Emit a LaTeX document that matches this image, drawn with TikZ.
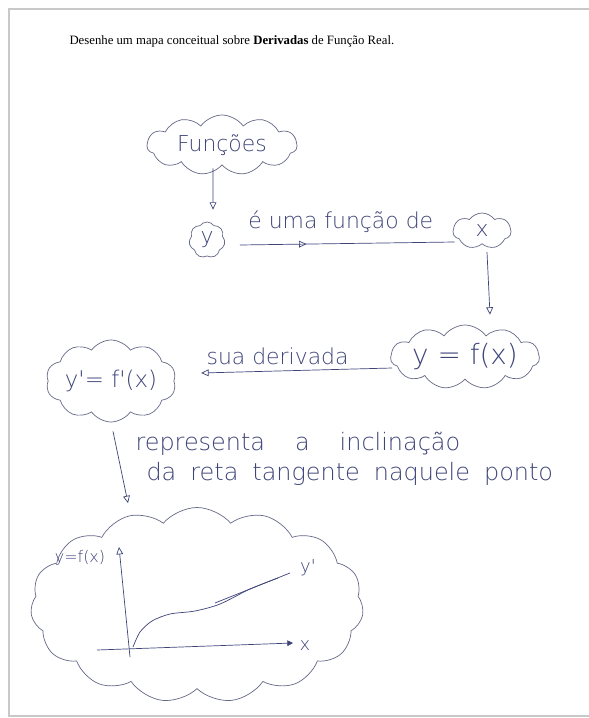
\documentclass[tikz,border=0pt]{standalone}
\usepackage{fontspec}
\setmainfont{Liberation Serif}
\newfontfamily\handfont{DejaVu Sans ExtraLight}
\usetikzlibrary{shapes.symbols, arrows.meta, positioning, calc, decorations.markings}
\definecolor{cInk}{RGB}{62,68,120}
\definecolor{cCloud}{RGB}{100,104,135}
\definecolor{cFrame}{RGB}{200,200,200}
\tikzset{
	hand/.style     ={text=cInk, font=\handfont\fontsize{#1}{#1}\selectfont},
	hand/.default   =22,
	idea/.style     ={cloud, cloud ignores aspect, cloud puff arc=110, draw=cCloud, line width=0.7pt, inner sep=0pt, hand},
	conn/.style     ={draw=cInk, line width=0.7pt},
	sig/.style      ={conn, -{Triangle[open, length=2.6mm, width=2.4mm]}},
	midsig/.style   ={conn, postaction={decorate}, decoration={markings, mark=at position #1 with {\arrow{Triangle[open, length=2.6mm, width=2.4mm]}}}},
}

\begin{document}
\begin{tikzpicture}[x=1bp, y=-1bp]
	\useasboundingbox (0,0) rectangle (589,718);
	\fill[white] (0,0) rectangle (589,718);
	\draw[cFrame, line width=1.2pt] (589,9) -- (9,9) -- (9,716) -- (589,716);
	\node[anchor=base west, font=\fontsize{12.8}{15}\selectfont] (title) at (66,45) {Desenhe um mapa conceitual sobre \textbf{Derivadas} de Função Real.};
	% concept clouds
	\node[idea, cloud puffs=11, minimum width=150bp, minimum height=60bp] (funcoes) at (222,145) {Funções};
	\node[idea, cloud puffs=7, minimum width=36bp, minimum height=36bp] (ycl) at (207,240) {y};
	\node[idea, cloud puffs=7, minimum width=58bp, minimum height=36bp] (xcl) at (482,231) {x};
	\node[idea, cloud puffs=11, minimum width=148bp, minimum height=64bp, hand=28] (fx) at (465,357) {y = f(x)};
	\node[idea, cloud puffs=10, minimum width=130bp, minimum height=82bp, hand=23] (dfx) at (111,381) {y'= f'(x)};
	\node[idea, cloud puffs=15, cloud puff arc=100, minimum width=333bp, minimum height=195bp] (graph) at (197,605) {};
	% links
	\draw[sig] ($(funcoes.south)+(-9,3)$) -- ($(ycl.north)+(6,-12)$);
	\draw[midsig=0.31] ($(ycl.east)+(15,5)$) -- ($(xcl.west)+(2,11)$) node[pos=0.47, above=7bp, hand] (lbl1) {é uma função de};
	\draw[sig] ($(xcl.south)+(5,8)$) -- ($(fx.north)+(25,-10)$);
	\draw[sig] ($(fx.west)+(2,11)$) -- ($(dfx.east)+(27,-8)$) node[pos=0.6, above=3bp, hand] (lbl2) {sua derivada};
	\draw[sig] ($(dfx.south)+(2,9)$) -- ($(graph.north)+(-69,-4)$);
	\node[hand=24, anchor=base west] (rep1) at (132,450) {representa\hspace{30bp}a\hspace{30bp}inclinação};
	\node[hand=24, anchor=base west] (rep2) at (143,480) {da\hspace{14bp}reta\hspace{14bp}tangente\hspace{14bp}naquele\hspace{14bp}ponto};
	% sketch of f and its tangent
	\draw[sig] (130,657) -- (119,547);
	\draw[conn, -{Triangle[length=2mm, width=2mm]}] (97,650) -- (293,643);
	\draw[conn] plot[smooth] coordinates {(133,647) (140,632) (152,621) (170,614) (195,611) (220,604) (250,589) (278,578)};
	\draw[conn] (215,603) -- (290,573);
	\node[hand=16] (ylab) at (80,558) {y=f(x)};
	\node[hand=18] (xlab) at (305,646) {x};
	\node[hand=18] (yplab) at (308,568) {y'};
\end{tikzpicture}
\end{document}
